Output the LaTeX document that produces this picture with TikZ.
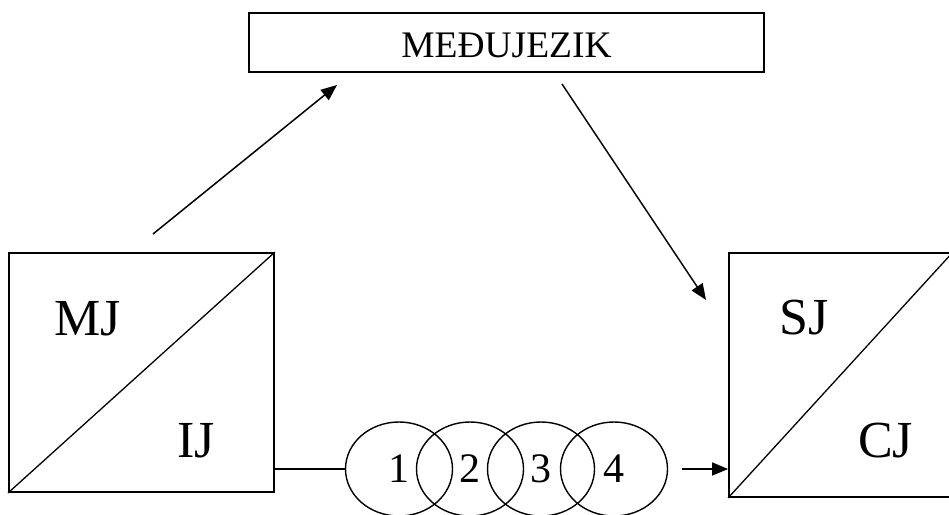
\documentclass[tikz,border=0pt]{standalone}
\usepackage{fontspec}
\setmainfont{Liberation Serif}
\usetikzlibrary{shapes.geometric,arrows.meta}
\begin{document}
\begin{tikzpicture}[x=1pt,y=-1pt,
  frame/.style={draw,line width=1.8pt,inner sep=0pt},
  bub/.style={draw,ellipse,line width=1.4pt,minimum width=107pt,minimum height=94pt,
              inner sep=0pt,font=\fontsize{42}{42}\selectfont},
  big/.style={anchor=base west,inner sep=0pt,font=\fontsize{52}{52}\selectfont},
  link/.style={line width=1.5pt},
  arr/.style={link,-{Triangle[length=16pt,width=13pt]}}]
\useasboundingbox (0,0) rectangle (949,514);

% interlanguage box
\node[frame,line width=2pt,minimum width=515pt,minimum height=59pt,
      text height=29pt,text depth=0pt,font=\fontsize{37.5}{37.5}\selectfont]
  (mid) at (506.5,42.5) {MEĐUJEZIK};

% source side: MJ / IJ
\node[frame,minimum width=265pt,minimum height=239pt] (lbox) at (141.5,372.5) {};
\draw[link,line width=1.3pt] (lbox.south west) -- (lbox.north east);
\node[big] (mj) at (54,335) {MJ};
\node[big] (ij) at (177,457) {IJ};

% target side: SJ / CJ (right edge runs past the page)
\node[frame,minimum width=223pt,minimum height=244pt] (rbox) at (840.5,375) {};
\draw[link,line width=1.3pt] (rbox.south west) -- (rbox.north east);
\node[big] (sj) at (779,334) {SJ};
\node[big] (cj) at (858,457) {CJ};

% transfer stages
\node[bub] (e1) at (399,469) {1};
\node[bub] (e2) at (470,469) {2};
\node[bub] (e3) at (541,469) {3};
\node[bub] (e4) at (614,469) {4};

% connectors
\coordinate (u0) at (153,234);
\coordinate (u1) at (337,85);
\draw[arr] (u0) -- (u1);
\coordinate (d0) at (562,84);
\coordinate (d1) at (706,300);
\draw[arr] (d0) -- (d1);
\draw[link] (e1.west -| lbox.east) -- (e1.west);
\coordinate (h0) at (682,469);
\draw[arr] (h0) -- (h0 -| rbox.west);
\end{tikzpicture}
\end{document}
